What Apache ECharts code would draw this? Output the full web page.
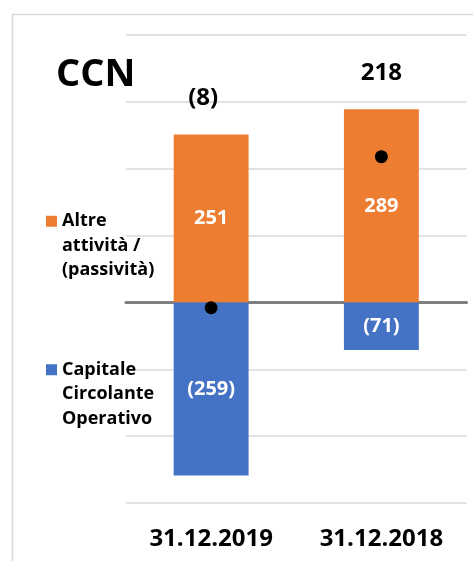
<!DOCTYPE html>
<html>
<head>
<meta charset="utf-8">
<script src="https://cdn.jsdelivr.net/npm/echarts@6/dist/echarts.min.js"></script>
<style>
  html, body { margin: 0; padding: 0; background: #fff; }
  #chart { width: 473px; height: 561px; }
</style>
</head>
<body>
<div id="chart"></div>
<script>
// Chart data
const CATEGORIES = ['31.12.2019', '31.12.2018'];
const OTHER_ASSETS = [251, 289];        // Altre attività / (passività)
const OPERATING_CAPITAL = [-259, -71];  // Capitale Circolante Operativo
const CCN_TOTAL = [-8, 218];            // CCN (dots)
const AXIS_MIN = -300;
const AXIS_MAX = 400;
const AXIS_STEP = 100;

const FONT = '"Open Sans", sans-serif';

// Negative numbers are shown in parentheses, accounting style
function fmt(v) {
    return v < 0 ? '(' + (-v) + ')' : String(v);
}

const chart = echarts.init(document.getElementById('chart'), null, { renderer: 'canvas' });

const option = {
    animation: false,
    backgroundColor: '#fff',
    graphic: [{
        type: 'rect',
        left: 10,
        top: 12,
        shape: { width: 700, height: 700 },
        style: { fill: 'none', stroke: '#d9d9d9', lineWidth: 1.5 },
        silent: true,
        z: -1
    }],
    title: {
        text: 'CCN',
        left: 51,
        top: 51,
        textStyle: { fontFamily: FONT, fontWeight: 'bold', fontSize: 38, color: '#000' }
    },
    legend: {
        orient: 'vertical',
        left: 41,
        top: 155,
        itemWidth: 11,
        itemHeight: 11,
        itemGap: 26,
        icon: 'rect',
        selectedMode: false,
        // leading blank lines keep the marker next to the first text line
        formatter: name => '\n\n' + name,
        textStyle: { fontFamily: FONT, fontWeight: 'bold', fontSize: 18, lineHeight: 24.5, color: '#000' },
        data: ['Altre\nattività /\n(passività)', 'Capitale\nCircolante\nOperativo']
    },
    grid: { left: 126, right: 6.5, top: 35, bottom: 58 },
    xAxis: {
        type: 'category',
        data: CATEGORIES,
        axisTick: { show: false },
        axisLine: { onZero: true, lineStyle: { color: '#7f7f7f', width: 3 } },
        axisLabel: {
            fontFamily: FONT, fontWeight: 'bold', fontSize: 24, color: '#000',
            margin: 24
        },
        position: 'bottom'
    },
    yAxis: {
        type: 'value',
        min: AXIS_MIN,
        max: AXIS_MAX,
        interval: AXIS_STEP,
        axisLabel: { show: false },
        axisLine: { show: false },
        axisTick: { show: false },
        splitLine: { lineStyle: { color: '#d9d9d9', width: 1.5 } }
    },
    series: [
        {
            name: 'Altre\nattività /\n(passività)',
            type: 'bar',
            stack: 'ccn',
            barWidth: '44%',
            itemStyle: { color: '#ED7D31' },
            label: {
                show: true, position: 'inside', formatter: p => fmt(p.value),
                fontFamily: FONT, fontWeight: 'bold', fontSize: 20, color: '#fff'
            },
            data: OTHER_ASSETS
        },
        {
            name: 'Capitale\nCircolante\nOperativo',
            type: 'bar',
            stack: 'ccn',
            barWidth: '44%',
            itemStyle: { color: '#4472C4' },
            label: {
                show: true, position: 'inside', formatter: p => fmt(p.value),
                fontFamily: FONT, fontWeight: 'bold', fontSize: 20, color: '#fff'
            },
            data: OPERATING_CAPITAL
        },
        {
            name: 'CCN',
            type: 'scatter',
            symbolSize: 13,
            itemStyle: { color: '#000', opacity: 1 },
            z: 5,
            data: CCN_TOTAL
        },
        {
            // total labels, placed above the positive part of each stack
            name: 'CCN label',
            type: 'scatter',
            symbolSize: 0,
            silent: true,
            itemStyle: { opacity: 1 },
            label: {
                show: true, position: 'top', distance: 24,
                formatter: p => fmt(CCN_TOTAL[p.dataIndex]),
                fontFamily: FONT, fontWeight: 'bold', fontSize: 24, color: '#000'
            },
            data: OTHER_ASSETS.map((v, i) => i === 0 ? { value: v, label: { offset: [-8, 0] } } : v)
        }
    ]
};

chart.setOption(option);
</script>
</body>
</html>
